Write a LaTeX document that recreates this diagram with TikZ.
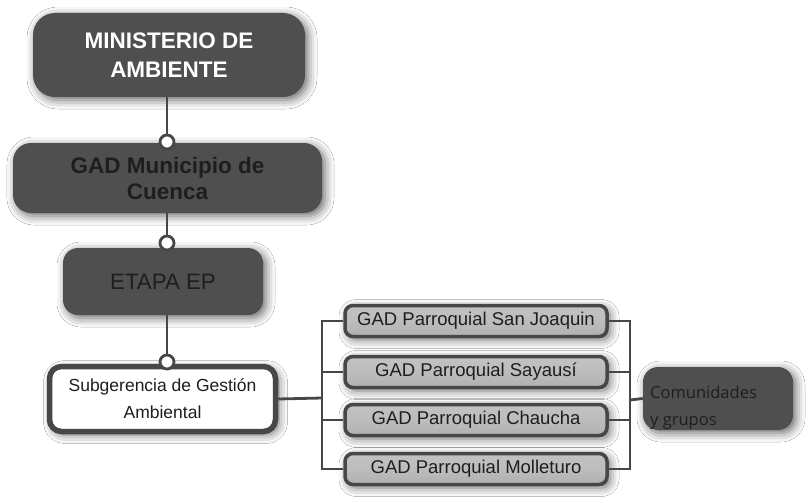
\documentclass[tikz,border=0pt]{standalone}
\usepackage{fontspec}
\setmainfont{Liberation Sans}
\newfontfamily\opensans{Open Sans}
\usetikzlibrary{shadows.blur,calc}
\definecolor{boxdark}{HTML}{4F4F4F}
\definecolor{txtdark}{HTML}{1E1E1E}
\definecolor{linec}{HTML}{474747}
\tikzset{
  shad/.style={blur shadow={shadow xshift=3pt,shadow yshift=-3pt,shadow blur radius=9pt,shadow opacity=60}},
  darkbox/.style={shad,fill=boxdark,draw=none,align=center,inner sep=0pt},
  gadbox/.style={shad,draw=linec,line width=3.5pt,rounded corners=8pt,top color=gray!48,bottom color=gray!62,middle color=gray!52,
     minimum width=262pt,minimum height=31pt,inner sep=0pt,text=txtdark,font=\fontsize{18.5}{20}\selectfont},
  dotc/.style={circle,fill=white,draw=linec,line width=2.8pt,minimum size=14pt,inner sep=0pt},
  conn/.style={draw=linec,line width=2.8pt}
}
\begin{document}
\begin{tikzpicture}[x=1pt,y=-1pt]
\useasboundingbox[fill=white] (0,0) rectangle (809,503);
% main column
\node[darkbox,rounded corners=22pt,minimum width=272pt,minimum height=84pt,text=white,
  font=\bfseries\fontsize{22.5}{29}\selectfont] (b1) at (169,55) {MINISTERIO DE\\AMBIENTE};
\node[darkbox,rounded corners=18pt,minimum width=309pt,minimum height=70pt,text=txtdark,
  font=\bfseries\fontsize{22.5}{26}\selectfont] (b2) at (167.5,178) {GAD Municipio de\\Cuenca};
\node[darkbox,rounded corners=15pt,minimum width=200pt,minimum height=67pt,text=txtdark,
  font=\fontsize{22.3}{26}\selectfont] (b3) at (163,281.5) {ETAPA EP};
\node[shad,fill=white,draw=linec,line width=5.5pt,rounded corners=12pt,minimum width=226pt,minimum height=65pt,
  align=center,inner sep=0pt,text=txtdark,font=\fontsize{17.5}{27}\selectfont] (b4) at (162.5,399) {Subgerencia de Gestión\\Ambiental};
% dots
\node[dotc] (d1) at (167,142) {};
\node[dotc] (d2) at (167,243) {};
\node[dotc] (d3) at (167,362) {};
\draw[conn] (d1 |- b1.south) -- (d1.north);
\draw[conn] (d2 |- b2.south) -- (d2.north);
\draw[conn] (d3 |- b3.south) -- (d3.north);
% parish boxes
\node[gadbox] (g1) at (476,321) {GAD Parroquial San Joaquin};
\node[gadbox] (g2) at (476,372) {GAD Parroquial Sayausí};
\node[gadbox] (g3) at (476,420) {GAD Parroquial Chaucha};
\node[gadbox] (g4) at (476,469) {GAD Parroquial Molleturo};
% communities
\node[darkbox,rounded corners=15pt,minimum width=150pt,minimum height=63pt] (cm) at (718,398.5) {};
\node[anchor=north west,inner sep=0pt,text=txtdark,align=left,font=\opensans\fontsize{16.5}{27}\selectfont] (cmt) at (650,386) {Comunidades\\y grupos};
% brackets
\coordinate (L) at (322,398);
\coordinate (R) at (630,400);
\draw[conn] (b4.east) -- (L);
\draw[conn] (g1.west) -| (L);
\draw[conn] (g2.west) -| (L);
\draw[conn] (g3.west) -| (L);
\draw[conn] (g4.west) -| (L);
\draw[conn] (g1.east) -| (R);
\draw[conn] (g2.east) -| (R);
\draw[conn] (g3.east) -| (R);
\draw[conn] (g4.east) -| (R);
\draw[conn] (R) -- (cm.west);
\end{tikzpicture}
\end{document}
